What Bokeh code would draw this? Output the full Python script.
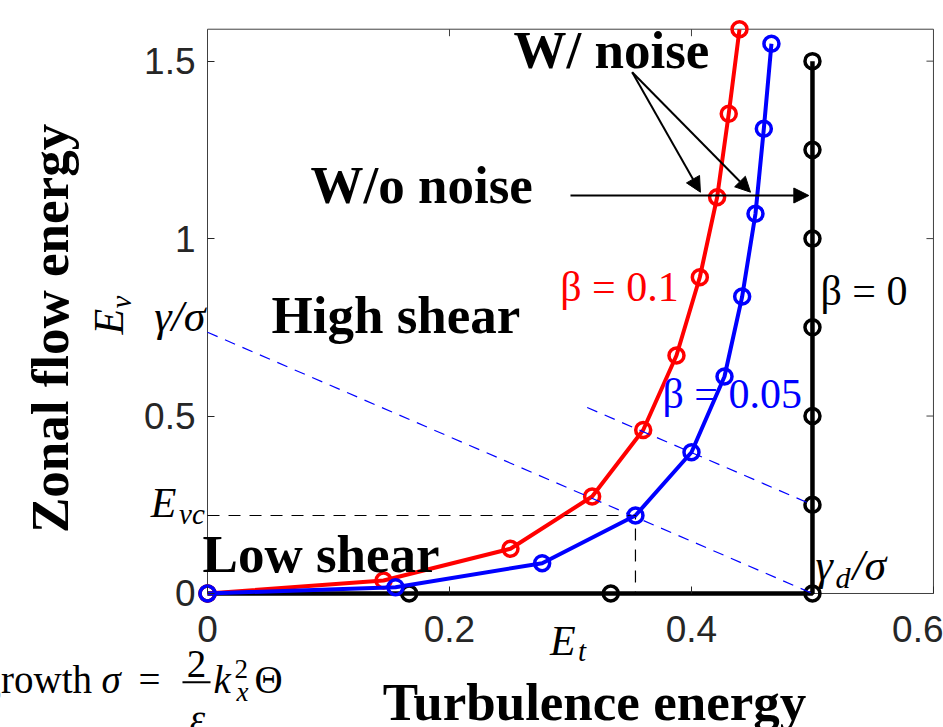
import math
from bokeh.plotting import figure
from bokeh.models import Range1d, FixedTicker, Label, Arrow, NormalHead
from bokeh.embed import file_html
from bokeh.resources import INLINE

# ---------------- data ----------------
# beta = 0.1 (red)
et_b01 = [0, 0.1455, 0.2504, 0.3179, 0.3601, 0.3876, 0.4069, 0.4212, 0.4308, 0.4397]
ev_b01 = [0, 0.0366, 0.1260, 0.2733, 0.4607, 0.6706, 0.8912, 1.1166, 1.3516, 1.5900]
# beta = 0.05 (blue)
et_b005 = [0, 0.1554, 0.2766, 0.3537, 0.4000, 0.4273, 0.4419, 0.4529, 0.4598, 0.4661]
ev_b005 = [0, 0.0178, 0.0854, 0.2198, 0.3981, 0.6114, 0.8368, 1.0699, 1.3094, 1.5489]
# beta = 0 (black)
et_b0 = [0, 0.1667, 0.3333, 0.5, 0.5, 0.5, 0.5, 0.5, 0.5, 0.5]
ev_b0 = [0, 0, 0, 0, 0.25, 0.5, 0.75, 1.0, 1.25, 1.5]
# dashed shear lines (blue)
shear1_x = [0, 0.5]
shear1_y = [0.736, 0]
shear2_x = [0.3138, 0.5]
shear2_y = [0.524, 0.25]
# arrows (W/o noise, W/ noise)
arrow_wo = (0.300, 1.1214, 0.497, 1.1214)
arrow_w_start = (0.351, 1.4689)
arrow_w_ends = [(0.4074, 1.1307), (0.4488, 1.1307)]
# axes
x_ticks = [0, 0.2, 0.4, 0.6]
x_tick_labels = ["0", "0.2", "0.4", "0.6"]
y_ticks = [0, 0.5, 1, 1.5]
y_tick_labels = ["0", "0.5", "1", "1.5"]
x_lim = 0.6
y_lim = 1.59

# ---------------- figure ----------------
# the plotting frame fills the whole canvas; the axes are pinned at x=0 / y=0
W, H = 943, 727
XR = (-0.1711, 0.6083)
YR = (-0.3776, 1.6709)
p = figure(width=W, height=H,
           x_range=Range1d(*XR), y_range=Range1d(*YR),
           output_backend="svg", toolbar_location=None,
           min_border_left=0, min_border_right=0,
           min_border_top=0, min_border_bottom=0)
p.outline_line_color = None
p.xgrid.visible = False
p.ygrid.visible = False
p.background_fill_color = "white"
p.border_fill_color = "white"
PX_X = W / (XR[1] - XR[0])   # pixels per x unit
PX_Y = H / (YR[1] - YR[0])   # pixels per y unit

tick_col = "#262626"
for ax, ticks, labs in ((p.xaxis[0], x_ticks, x_tick_labels), (p.yaxis[0], y_ticks, y_tick_labels)):
    ax.ticker = FixedTicker(ticks=ticks)
    ax.major_label_overrides = {t: l for t, l in zip(ticks, labs)}
    ax.fixed_location = 0
    ax.axis_line_color = None
    ax.major_tick_in = 7
    ax.major_tick_out = 0
    ax.major_tick_line_color = tick_col
    ax.minor_tick_line_color = None
    ax.major_label_text_font = "Liberation Sans"
    ax.major_label_text_font_size = "37px"
    ax.major_label_text_color = tick_col
p.xaxis.major_label_standoff = 23
p.yaxis.major_label_standoff = 12

# box
box_col = "#404040"
p.line([0, 0, x_lim, x_lim, 0], [0, y_lim, y_lim, 0, 0], line_color=box_col, line_width=1)
# top / right ticks
tl_x = 7 / PX_X
tl_y = 7 / PX_Y
top_ticks = [t for t in x_ticks if 0 < t < x_lim]
right_ticks = [t for t in y_ticks if 0 < t < y_lim]
p.segment(x0=top_ticks, y0=[y_lim] * len(top_ticks), x1=top_ticks, y1=[y_lim - tl_y] * len(top_ticks),
          line_color=box_col, line_width=1)
p.segment(x0=[x_lim] * len(right_ticks), y0=right_ticks, x1=[x_lim - tl_x] * len(right_ticks), y1=right_ticks,
          line_color=box_col, line_width=1)

# data series
p.line(et_b0, ev_b0, line_color="black", line_width=4.5)
p.scatter(et_b0, ev_b0, marker="circle", size=15, fill_color=None, line_color="black", line_width=3.5)
p.line(et_b01, ev_b01, line_color="#ff0000", line_width=4)
p.scatter(et_b01, ev_b01, marker="circle", size=15, fill_color=None, line_color="#ff0000", line_width=3.5)
p.line(et_b005, ev_b005, line_color="#0000ff", line_width=4)
p.scatter(et_b005, ev_b005, marker="circle", size=15, fill_color=None, line_color="#0000ff", line_width=3.5)

# dashed guide lines
p.line([0, et_b005[3], et_b005[3]], [ev_b005[3], ev_b005[3], 0], line_color="black",
       line_width=1.2, line_dash="12 9")
p.line(shear1_x, shear1_y, line_color="#0000ff", line_width=1.2, line_dash="11 8")
p.line(shear2_x, shear2_y, line_color="#0000ff", line_width=1.2, line_dash="11 8")

# arrows
def head():
    return NormalHead(size=15, fill_color="black", line_color="black", line_width=1)

p.add_layout(Arrow(end=head(), x_start=arrow_wo[0], y_start=arrow_wo[1], x_end=arrow_wo[2], y_end=arrow_wo[3],
                   line_color="black", line_width=2))
for xe, ye in arrow_w_ends:
    p.add_layout(Arrow(end=head(), x_start=arrow_w_start[0], y_start=arrow_w_start[1], x_end=xe, y_end=ye,
                       line_color="black", line_width=2))

# ---------------- text ----------------
SERIF = "Liberation Serif"
MID = 0.345  # distance (in em) from the alphabetic baseline up to the text box middle

def lab(text, x, y, size, color="black", style="normal", align="left", angle=0.0, font=SERIF):
    # (x, y) is the point on the alphabetic baseline; the label is anchored at the box middle
    if angle:
        x = x - MID * size / PX_X
    else:
        y = y + MID * size / PX_Y
    p.add_layout(Label(x=x, y=y, text=text, text_font=font, text_font_size=f"{size}px",
                       text_font_style=style, text_color=color, text_align=align,
                       text_baseline="middle", angle=angle))

# axis titles
lab("Zonal flow energy", -0.1149, 0.7467, 53, style="bold", align="center", angle=math.pi / 2)
lab("Turbulence energy", 0.3198, -0.3578, 53, style="bold", align="center")
# annotations
lab("W/ noise", 0.2529, 1.4793, 53, style="bold")
lab("W/o noise", 0.0851, 1.0989, 53, style="bold")
lab("High shear", 0.0529, 0.7326, 53, style="bold")
lab("Low shear", -0.0041, 0.0592, 53, style="bold")
lab("β = 0.1", 0.2915, 0.8228, 42, color="#ff0000")
lab("β = 0.05", 0.3760, 0.5213, 42, color="#0000ff")
lab("β = 0", 0.5066, 0.8115, 42)
lab("γ/σ", -0.0017, 0.7382, 44, style="italic", align="right")
lab("γ", 0.5025, 0.0366, 44, style="italic")
lab("d", 0.5190, 0.0169, 30, style="italic")
lab("/σ", 0.5330, 0.0366, 44, style="italic")
lab("E", -0.0470, 0.2141, 42, style="italic")
lab("vc", -0.0235, 0.1972, 29, style="italic")
lab("E", 0.2830, -0.1747, 42, style="italic")
lab("t", 0.3062, -0.1916, 29, style="italic")
lab("E", -0.0694, 0.7298, 42, style="italic", angle=math.pi / 2)
lab("v", -0.0636, 0.803, 29, style="italic", angle=math.pi / 2)
# clipped formula at lower left
lab("growth", -0.1868, -0.2790, 39)
lab("σ", -0.0876, -0.2790, 39, style="italic")
lab("=", -0.0570, -0.2790, 39)
lab("2", -0.0091, -0.2367, 39, align="center")
p.line([-0.0207, 0.0025], [-0.2499, -0.2499], line_color="black", line_width=2)
lab("ε", -0.0083, -0.3888, 39, style="italic", align="center")
lab("k", 0.00496, -0.2790, 39, style="italic")
lab("2", 0.0223, -0.2395, 27)
lab("x", 0.0240, -0.3043, 27, style="italic")
lab("Θ", 0.0388, -0.2790, 39)

open("out.html", "w").write(file_html(p, INLINE))
